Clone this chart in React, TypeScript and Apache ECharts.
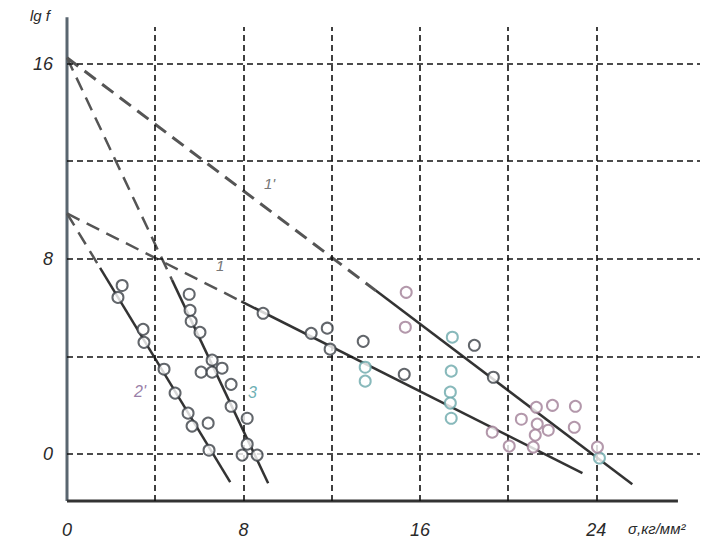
import React, { useEffect, useRef } from "react";
import * as echarts from "echarts";

// Axis ranges and tick values
const X_MIN = 0;
const X_MAX = 28.7;
const Y_MIN = -1.92;
const Y_MAX = 17.5;
const xGridValues = [4, 8, 12, 16, 20, 24];
const yGridValues = [0, 4, 8, 12, 16];
const xLabelValues = [0, 8, 16, 24];
const yLabelValues = [0, 8, 16];

// Fitted lines: dashed extrapolation part and solid part
const line1Dashed = [[0, 16.24], [14, 6.7]];
const line1Solid = [[14, 6.7], [25.63, -1.23]];
const line2Dashed = [[0, 9.86], [7.9, 6.26]];
const line2Solid = [[7.9, 6.26], [23.37, -0.78]];
const line3Dashed = [[0, 16.24], [4.76, 7.14]];
const line3Solid = [[4.76, 7.14], [9.12, -1.19]];
const line2pDashed = [[0, 9.86], [1.5, 7.63]];
const line2pSolid = [[1.5, 7.63], [7.4, -1.15]];

// Experimental points
const darkPoints = [
  [2.5, 6.91], [2.31, 6.42], [3.45, 5.11], [3.49, 4.58], [4.4, 3.48],
  [4.9, 2.5], [5.49, 1.68], [5.67, 1.15], [6.4, 1.27], [6.44, 0.16],
  [5.54, 6.55], [5.58, 5.89], [5.63, 5.44], [6.03, 4.99], [6.58, 3.85],
  [6.08, 3.36], [6.58, 3.36], [7.03, 3.52], [7.44, 2.86], [7.44, 1.96],
  [8.17, 1.47], [8.17, 0.41], [7.94, -0.04], [8.62, -0.04],
  [8.89, 5.77], [11.07, 4.95], [11.8, 5.16], [11.93, 4.3], [13.43, 4.62],
  [15.29, 3.27], [18.47, 4.46], [19.33, 3.15],
];
const tealPoints = [
  [13.52, 3.56], [13.52, 2.99], [17.47, 4.79], [17.42, 3.4], [17.38, 2.54],
  [17.38, 2.09], [17.42, 1.47], [24.14, -0.16],
];
const pinkPoints = [
  [15.38, 6.63], [15.34, 5.2], [19.28, 0.9], [20.05, 0.33], [21.28, 1.92],
  [22.01, 2.0], [23.05, 1.96], [20.6, 1.43], [21.32, 1.23], [21.82, 0.98],
  [21.23, 0.78], [21.14, 0.29], [23.0, 1.1], [24.05, 0.29],
];

const yAxisLine = [[0, Y_MIN], [0, 17.9]];
const xAxisLine = [[0, Y_MIN], [27.7, Y_MIN]];

const FONT = "Liberation Sans";

export default function App() {
  const ref = useRef<HTMLDivElement>(null);
  useEffect(() => {
    if (!ref.current) return;
    const chart = echarts.init(ref.current, null, { renderer: "svg" });
    const lineSeries = (data: number[][], dashed: boolean, width: number, color: string) => ({
      type: "line",
      data,
      symbol: "none",
      silent: true,
      lineStyle: { color, width, type: dashed ? [14, 8] : "solid" },
      z: 3,
    });
    const scatter = (data: number[][], color: string) => ({
      type: "scatter",
      data,
      symbol: "circle",
      symbolSize: 11,
      itemStyle: { color: "#ffffff", borderColor: color, borderWidth: 2 },
      z: 5,
    });
    chart.setOption({
      animation: false,
      backgroundColor: "#ffffff",
      grid: { left: 67, top: 27, width: 633, height: 474 },
      xAxis: {
        type: "value",
        min: X_MIN,
        max: X_MAX,
        axisLine: { show: false },
        axisTick: { show: false },
        splitLine: { show: false },
        axisLabel: {
          customValues: xLabelValues,
          interval: 0,
          hideOverlap: false,
          margin: 20,
          fontFamily: FONT,
          fontStyle: "italic",
          fontSize: 18,
          color: "#2a2a2a",
        },
      },
      yAxis: {
        type: "value",
        min: Y_MIN,
        max: Y_MAX,
        axisLine: { show: false },
        axisTick: { show: false },
        splitLine: { show: false },
        axisLabel: {
          customValues: yLabelValues,
          interval: 0,
          hideOverlap: false,
          margin: 14,
          fontFamily: FONT,
          fontStyle: "italic",
          fontSize: 18,
          color: "#2a2a2a",
        },
      },
      graphic: [
        { type: "text", left: 30, top: 8, style: { text: "lg f", font: `italic 15px "${FONT}"`, fill: "#2a2a2a" } },
        { type: "text", left: 628, top: 521, style: { text: "σ,кг/мм²", font: `italic 15px "${FONT}"`, fill: "#2a2a2a" } },
        { type: "text", left: 264, top: 176, style: { text: "1'", font: `italic 15px "${FONT}"`, fill: "#777" } },
        { type: "text", left: 216, top: 258, style: { text: "1", font: `italic 15px "${FONT}"`, fill: "#777" } },
        { type: "text", left: 134, top: 383, style: { text: "2'", font: `italic 16px "${FONT}"`, fill: "#9a7fa8" } },
        { type: "text", left: 248, top: 384, style: { text: "3", font: `italic 16px "${FONT}"`, fill: "#6fb0b4" } },
      ],
      series: [
        {
          type: "line",
          data: yAxisLine,
          symbol: "none",
          silent: true,
          clip: false,
          lineStyle: { color: "#5a6670", width: 3 },
          z: 2,
          markLine: {
            silent: true,
            symbol: "none",
            label: { show: false },
            lineStyle: { color: "#111", width: 1.6, type: [6, 4] },
            data: [
              ...xGridValues.map((v) => ({ xAxis: v })),
              ...yGridValues.map((v) => ({ yAxis: v })),
            ],
          },
        },
        {
          type: "line",
          data: xAxisLine,
          symbol: "none",
          silent: true,
          clip: false,
          lineStyle: { color: "#333", width: 3 },
          z: 2,
        },
        lineSeries(line1Dashed, true, 3, "#555"),
        lineSeries(line1Solid, false, 2.5, "#333"),
        lineSeries(line2Dashed, true, 2.5, "#555"),
        lineSeries(line2Solid, false, 2.5, "#333"),
        lineSeries(line3Dashed, true, 2.5, "#555"),
        lineSeries(line3Solid, false, 2.5, "#333"),
        lineSeries(line2pDashed, true, 2.5, "#555"),
        lineSeries(line2pSolid, false, 2.5, "#333"),
        scatter(darkPoints, "#3b4046"),
        scatter(tealPoints, "#6aa7aa"),
        scatter(pinkPoints, "#a07e96"),
      ],
    });
    return () => chart.dispose();
  }, []);
  return (
    <div
      ref={ref}
      style={{ position: "fixed", left: 0, top: 0, width: 727, height: 558 }}
    />
  );
}
